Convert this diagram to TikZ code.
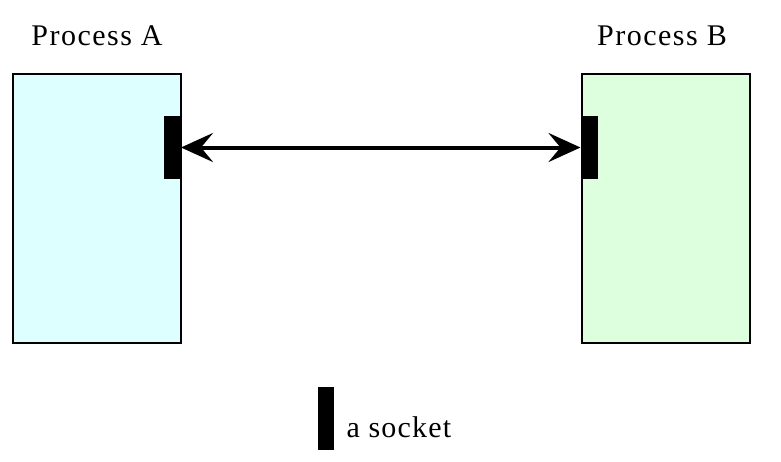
\documentclass[tikz,border=0pt]{standalone}
\usepackage{fontspec}
\setmainfont{Liberation Serif}
\usetikzlibrary{arrows.meta}
\definecolor{procAfill}{HTML}{DDFFFF}
\definecolor{procBfill}{HTML}{DDFFDD}
\tikzset{
  procbox/.style={draw,line width=2.6pt,minimum width=168pt,minimum height=269pt,inner sep=0pt,outer sep=0pt},
  sockbox/.style={fill=black,minimum width=17pt,minimum height=63pt,inner sep=0pt,outer sep=0pt},
  lbl/.style={anchor=base,font=\fontsize{30}{36}\selectfont\addfontfeatures{LetterSpace=5}},
}
\begin{document}
\begin{tikzpicture}[x=1pt,y=-1pt]
		\useasboundingbox (0,0) rectangle (781,461);
		\node[procbox,fill=procAfill] (procA) at (97,208.5) {};
		\node[procbox,fill=procBfill] (procB) at (666,208.5) {};
		\node[lbl] (labA) at (97,45) {Process A};
		\node[lbl] (labB) at (662,45) {Process B};
		\node[sockbox] (sockA) at (172.5,147.5) {};
		\node[sockbox] (sockB) at (589,147.5) {};
		\draw[{Stealth[length=32pt,width=29pt,inset=12pt]}-{Stealth[length=32pt,width=29pt,inset=12pt]},line width=4pt] (sockA.east) -- (sockB.west);
		% legend
		\node[sockbox,minimum width=16pt] (sockKey) at (325.5,418.5) {};
		\node[anchor=base west,font=\fontsize{30}{36}\selectfont\addfontfeatures{LetterSpace=4}] (keyText) at (343,437) {a socket};
	\end{tikzpicture}
\end{document}
